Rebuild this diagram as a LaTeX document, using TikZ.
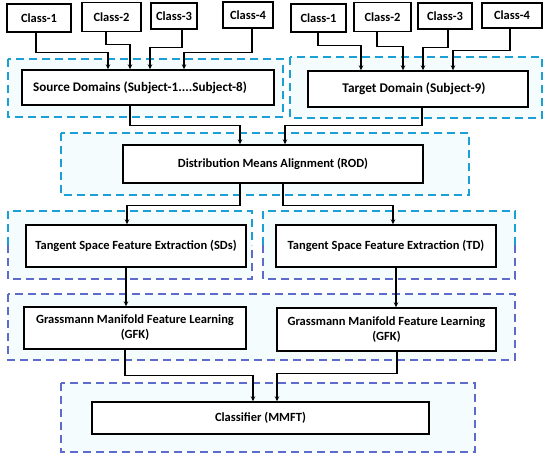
\documentclass[tikz,border=0pt]{standalone}
\usepackage{fontspec}
\setmainfont{Carlito}
\usetikzlibrary{arrows.meta,calc}
\definecolor{dashcyan}{RGB}{26,160,213}
\definecolor{dashblue}{RGB}{93,107,203}
\definecolor{paletint}{RGB}{245,252,253}

\begin{document}
\begin{tikzpicture}[x=1pt,y=-1pt,
	box/.style={draw,line width=1.4pt,fill=white,inner sep=2pt,align=center,font=\fontsize{12.5}{15}\selectfont\bfseries},
	classbox/.style={box,font=\fontsize{12.5}{14}\selectfont\bfseries},
	frame/.style={dash pattern=on 8pt off 5pt,line width=1.8pt},
	arr/.style={-{Stealth[length=5pt,width=4.5pt]},line width=1.2pt}]
	\useasboundingbox (0,0) rectangle (550,458);

	% dashed frames
	\fill[paletint] (8,59) rectangle (283,117);
	\fill[paletint] (290,57) rectangle (542,118);
	\fill[paletint] (61,133) rectangle (469,195);
	\fill[paletint] (8,211) rectangle (252,279);
	\fill[paletint] (263,211) rectangle (515,279);
	\fill[paletint] (8,294) rectangle (515,360);
	\fill[paletint] (61,383) rectangle (475,452);
	\draw[frame,dashcyan] (8,59) rectangle (283,117);
	\draw[frame,dashcyan] (290,57) rectangle (542,118);
	\draw[frame,dashcyan] (61,133) rectangle (469,195);
	\draw[frame,dashcyan] (8,245) -- (8,211) -- (252,211) -- (252,245);
	\draw[frame,dashblue] (8,245) -- (8,279) -- (252,279) -- (252,245);
	\draw[frame,dashcyan] (263,245) -- (263,211) -- (515,211) -- (515,245);
	\draw[frame,dashblue] (263,245) -- (263,279) -- (515,279) -- (515,245);
	\draw[frame,dashblue] (8,294) rectangle (515,360);
	\draw[frame,dashblue] (61,383) rectangle (475,452);

	% class boxes
	\node[classbox,minimum width=64pt,minimum height=28pt] (sc1) at (39,18) {Class-1};
	\node[classbox,minimum width=59pt,minimum height=29pt] (sc2) at (111.5,17) {Class-2};
	\node[classbox,minimum width=46pt,minimum height=26pt] (sc3) at (174,16) {Class-3};
	\node[classbox,minimum width=50pt,minimum height=26pt] (sc4) at (248,15) {Class-4};
	\node[classbox,minimum width=55pt,minimum height=28pt] (tc1) at (318.5,18) {Class-1};
	\node[classbox,minimum width=57pt,minimum height=29pt] (tc2) at (382.5,17) {Class-2};
	\node[classbox,minimum width=54pt,minimum height=26pt] (tc3) at (445,16) {Class-3};
	\node[classbox,minimum width=60pt,minimum height=25pt] (tc4) at (512,15.5) {Class-4};

	% stages
	\node[box,font=\fontsize{13.1}{15}\selectfont\bfseries,minimum width=252pt,minimum height=35pt] (src) at (148,87.5) {\mbox{Source Domains (Subject-1....Subject-8)\hspace{16pt}}};
	\node[box,font=\fontsize{13.3}{15}\selectfont\bfseries,minimum width=220pt,minimum height=36pt] (tgt) at (418,89) {\mbox{Target Domain (Subject-9)\hspace{8pt}}};
	\node[box,minimum width=300pt,minimum height=38pt] (dma) at (273,164) {Distribution Means Alignment (ROD)};
	\node[box,minimum width=220pt,minimum height=42pt] (tsl) at (136,246) {Tangent Space Feature Extraction (SDs)};
	\node[box,minimum width=220pt,minimum height=42pt] (tsr) at (386,246) {Tangent Space Feature Extraction (TD)};
	\node[box,minimum width=222pt,minimum height=42pt] (gfl) at (135,328) {Grassmann Manifold Feature Learning\\(GFK)};
	\node[box,minimum width=219pt,minimum height=43pt] (gfr) at (386.5,329.5) {Grassmann Manifold Feature Learning\\(GFK)};
	\node[box,minimum width=337pt,minimum height=32pt] (cls) at (260.5,418) {Classifier (MMFT)};

	% connectors
	\draw[arr] ([xshift=-3pt]sc1.south) -- ++(0,20) -| ([xshift=-40pt]src.north);
	\draw[arr] ([xshift=-5.5pt]sc2.south) -- ++(0,12) -| ([xshift=-18pt]src.north);
	\draw[arr] ([xshift=8pt]sc3.south) -- ++(0,18) -| ([xshift=2pt]src.north);
	\draw[arr] ([xshift=4pt]sc4.south) -- ++(0,24) -| ([xshift=36pt]src.north);
	\draw[arr] ([xshift=-0.5pt]tc1.south) -- ++(0,13) -| ([xshift=-57pt]tgt.north);
	\draw[arr] ([xshift=-5.5pt]tc2.south) -- ++(0,14) -| ([xshift=-15pt]tgt.north);
	\draw[arr] ([xshift=3pt]tc3.south) -- ++(0,18) -| ([xshift=5pt]tgt.north);
	\draw[arr] ([xshift=-2pt]tc4.south) -- ++(0,22) -| ([xshift=35pt]tgt.north);
	\draw[arr] ([xshift=-18pt]src.south) -- ++(0,20) -| ([xshift=-33pt]dma.north);
	\draw[arr] ([xshift=4pt]tgt.south) -- ++(0,18) -| ([xshift=12pt]dma.north);
	\draw[arr] ([xshift=-33pt]dma.south) -- ++(0,22) -| ([xshift=-9pt]tsl.north);
	\draw[arr] ([xshift=10pt]dma.south) -- ++(0,22) -| ([xshift=7pt]tsr.north);
	\draw[arr] ([xshift=-10pt]tsl.south) -- ([xshift=-9pt]gfl.north);
	\draw[arr] ([xshift=10pt]tsr.south) -- ([xshift=9.5pt]gfr.north);
	\draw[arr] ([xshift=-10pt]gfl.south) -- ++(0,26) -| ([xshift=-7.5pt]cls.north);
	\draw[arr] ([xshift=10.5pt]gfr.south) -- ++(0,22) -| ([xshift=16.5pt]cls.north);
\end{tikzpicture}
\end{document}
